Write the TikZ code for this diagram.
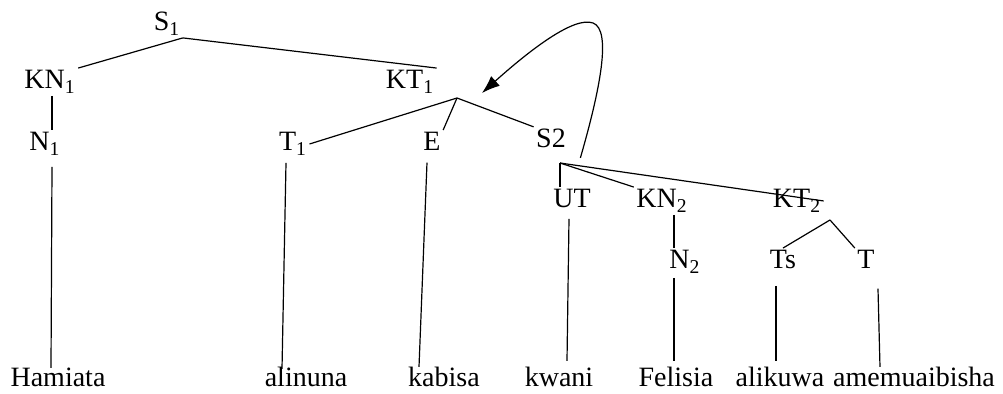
\documentclass[tikz,border=0pt]{standalone}
\usepackage{fontspec}
\setmainfont{Liberation Serif}
\usetikzlibrary{arrows.meta}

\begin{document}
\begin{tikzpicture}[x=0.5pt,y=-0.5pt,line width=0.6pt,
        lbl/.style={anchor=base,inner sep=1pt,font=\fontsize{14pt}{16pt}\selectfont}]
        \useasboundingbox (0,0) rectangle (1003,394);
        % category labels
        \node[lbl] (S1) at (167,31) {S\textsubscript{1}};
        \node[lbl] (KN1) at (50,89) {KN\textsubscript{1}};
        \node[lbl] (KT1) at (410,89) {KT\textsubscript{1}};
        \node[lbl] (N1) at (45,151) {N\textsubscript{1}};
        \node[lbl] (T1) at (293,151) {T\textsubscript{1}};
        \node[lbl] (E) at (432,151) {E};
        \node[lbl] (S2) at (551,148) {S2};
        \node[lbl] (UT) at (572,208) {UT};
        \node[lbl] (KN2) at (662,208) {KN\textsubscript{2}};
        \node[lbl] (KT2) at (797,208) {KT\textsubscript{2}};
        \node[lbl] (N2) at (685,269) {N\textsubscript{2}};
        \node[lbl] (Ts) at (783,269) {Ts};
        \node[lbl] (T) at (866,269) {T};
        % words
        \node[lbl] (hamiata) at (58,387) {Hamiata};
        \node[lbl] (alinuna) at (306,387) {alinuna};
        \node[lbl] (kabisa) at (444,387) {kabisa};
        \node[lbl] (kwani) at (559,387) {kwani};
        \node[lbl] (felisia) at (676,387) {Felisia};
        \node[lbl] (alikuwa) at (780,387) {alikuwa};
        \node[lbl] (amemuaibisha) at (914,387) {amemuaibisha};
        % branching points
        \coordinate (kt1j) at (457,98);
        \coordinate (s2j) at (560,163);
        \coordinate (kt2j) at (830,220);
        \coordinate (tip) at (482,93);
        % branches
        \draw (S1.south east) -- (KN1.north east);
        \draw (S1.south east) -- (KT1.north east);
        \draw ([xshift=1pt]KN1.south) -- ([xshift=1pt]KN1.south |- N1.north);
        \draw (kt1j) -- (T1.east);
        \draw (kt1j) -- (E.north east);
        \draw (kt1j) -- (S2.north west);
        \draw (s2j) -- (s2j |- UT.north);
        \draw (s2j) -- (KN2.north west);
        \draw (s2j) -- (KT2.east);
        \draw ([xshift=6pt]KN2.south) -- ([xshift=6pt]KN2.south |- N2.north);
        \draw (kt2j) -- (Ts.north);
        \draw (kt2j) -- (T.north west);
        % lines down to the words
        \draw ([shift={(3.5pt,-4.5pt)}]N1.south) -- ([shift={(-3.5pt,-1pt)}]hamiata.north);
        \draw ([shift={(-3.5pt,-2.5pt)}]T1.south) -- ([shift={(-12pt,-2pt)}]alinuna.north);
        \draw ([shift={(-2.5pt,-4.5pt)}]E.south) -- ([shift={(-12.5pt,-1pt)}]kabisa.north);
        \draw ([shift={(-1.5pt,-4pt)}]UT.south) -- ([shift={(4pt,2pt)}]kwani.north);
        \draw ([shift={(-5.5pt,-1pt)}]N2.south) -- ([shift={(-1pt,2pt)}]felisia.north);
        \draw ([shift={(-3.5pt,-7pt)}]Ts.south) -- ([shift={(-2pt,2pt)}]alikuwa.north);
        \draw ([shift={(6pt,-8.5pt)}]T.south) -- ([shift={(-17pt,-1pt)}]amemuaibisha.north);
        % movement arrow
        \draw[-{Latex[length=9pt,width=6.5pt]}] ([xshift=6pt,yshift=-3.5pt]S2.south east)
            .. controls (600,90) and (612,30) .. (593,23)
            .. controls (574,16) and (530,50) .. (tip);
    \end{tikzpicture}
\end{document}
